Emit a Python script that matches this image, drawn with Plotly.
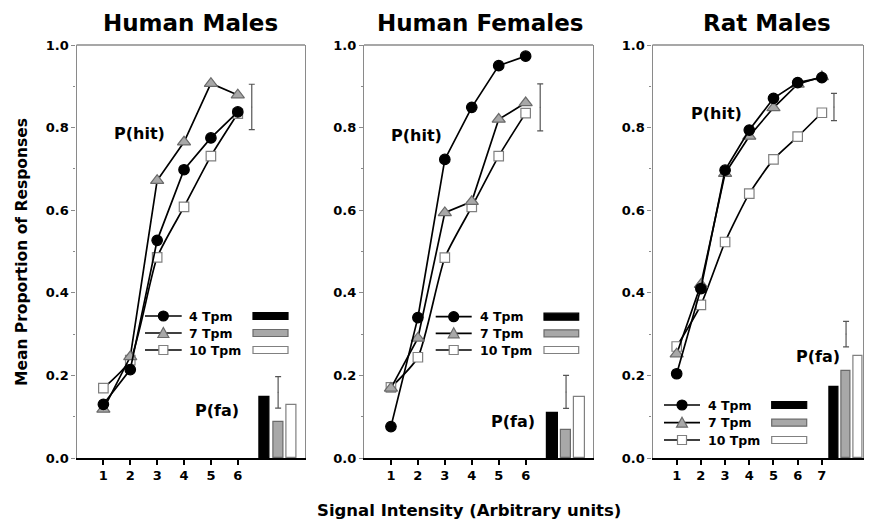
import plotly.graph_objects as go

# ---------------- data ----------------
panel_titles = ["Human Males", "Human Females", "Rat Males"]
series_names = ["4 Tpm", "7 Tpm", "10 Tpm"]

intensity_hm = [1, 2, 3, 4, 5, 6]
intensity_hf = [1, 2, 3, 4, 5, 6]
intensity_rm = [1, 2, 3, 4, 5, 6, 7]

hit_hm_4 = [0.130, 0.214, 0.527, 0.698, 0.775, 0.838]
hit_hm_7 = [0.118, 0.245, 0.672, 0.765, 0.907, 0.879]
hit_hm_10 = [0.169, 0.237, 0.486, 0.608, 0.731, 0.834]

hit_hf_4 = [0.076, 0.340, 0.723, 0.849, 0.950, 0.973]
hit_hf_7 = [0.169, 0.290, 0.594, 0.621, 0.820, 0.860]
hit_hf_10 = [0.171, 0.244, 0.485, 0.608, 0.731, 0.835]

hit_rm_4 = [0.204, 0.410, 0.697, 0.794, 0.871, 0.909, 0.921]
hit_rm_7 = [0.252, 0.420, 0.689, 0.779, 0.848, 0.905, 0.923]
hit_rm_10 = [0.270, 0.371, 0.523, 0.640, 0.723, 0.778, 0.836]

fa_hm = [0.148, 0.088, 0.129]
fa_hf = [0.108, 0.069, 0.147]
fa_rm = [0.171, 0.210, 0.248]

# representative error bars: (centre, half-width)
hit_err_hm = (0.850, 0.055)
hit_err_hf = (0.849, 0.057)
hit_err_rm = (0.850, 0.033)
fa_err_hm = (0.159, 0.038)
fa_err_hf = (0.160, 0.040)
fa_err_rm = (0.300, 0.031)

# ---------------- layout constants ----------------
W, H = 872, 523
TOP, BOT = 45, 458
panels = [
    dict(l=76.5, r=305, xr=8.5, bar0=7.0, hit_ex=6.52, fa_ex=7.5,
         x=intensity_hm, hits=[hit_hm_4, hit_hm_7, hit_hm_10], fa=fa_hm,
         he=hit_err_hm, fe=fa_err_hm,
         leg=dict(l0=145, l1=181.7, tx=187, b0=253, b1=288, rows=[316, 333, 350]),
         hitlab=(139.5, 133), falab=(216.7, 410), title_x=190.7),
    dict(l=364, r=593, xr=8.5, bar0=7.0, hit_ex=6.54, fa_ex=7.5,
         x=intensity_hf, hits=[hit_hf_4, hit_hf_7, hit_hf_10], fa=fa_hf,
         he=hit_err_hf, fe=fa_err_hf,
         leg=dict(l0=435.7, l1=471.7, tx=478, b0=544, b1=578.7, rows=[316.7, 333.3, 350]),
         hitlab=(416.7, 135), falab=(513, 421.7), title_x=480),
    dict(l=652.5, r=863, xr=8.7, bar0=7.5, hit_ex=7.5, fa_ex=8.0,
         x=intensity_rm, hits=[hit_rm_4, hit_rm_7, hit_rm_10], fa=fa_rm,
         he=hit_err_rm, fe=fa_err_rm,
         leg=dict(l0=664, l1=700, tx=705.5, b0=771.7, b1=806.7, rows=[405, 422.7, 440]),
         hitlab=(716.5, 114), falab=(818, 356), title_x=766.7),
]

FONT = "DejaVu Sans, Verdana, sans-serif"
styles = [
    dict(symbol="circle", size=10.5, color="#000000", lc="#000000", bar="#000000", barl="#000000",
         shape="linear"),
    dict(symbol="triangle-up", size=11.5, color="#a8a8a8", lc="#6a6a6a", bar="#a8a8a8", barl="#6a6a6a",
         shape="linear"),
    dict(symbol="square", size=9.5, color="#ffffff", lc="#808080", bar="#ffffff", barl="#808080",
         shape="spline"),
]


def px2x(p, px):
    return (px - p["l"]) / (p["r"] - p["l"]) * p["xr"]


def py2y(py):
    return (BOT - py) / (BOT - TOP)


fig = go.Figure()
shapes = []
annotations = []

for i, p in enumerate(panels):
    sfx = "" if i == 0 else str(i + 1)
    xa, ya = "x" + sfx, "y" + sfx
    # hit curves (draw 10, 7, 4 so filled circles on top)
    for k in [2, 1, 0]:
        st = styles[k]
        fig.add_trace(go.Scatter(
            x=p["x"], y=p["hits"][k], mode="lines+markers", name=series_names[k],
            line=dict(color="#000000", width=1.7, shape=st["shape"], smoothing=0.6),
            marker=dict(symbol=st["symbol"], size=st["size"], color=st["color"],
                        line=dict(color=st["lc"], width=1.2)),
            showlegend=False, xaxis=xa, yaxis=ya))
    # false-alarm bars
    bx = [p["bar0"] + 0.5 * j for j in range(3)]
    fig.add_trace(go.Bar(
        x=bx, y=p["fa"], width=0.38,
        marker=dict(color=[s["bar"] for s in styles],
                    line=dict(color=[s["barl"] for s in styles], width=1.2)),
        showlegend=False, xaxis=xa, yaxis=ya))
    # representative error bars
    fig.add_trace(go.Scatter(
        x=[p["hit_ex"], p["fa_ex"]], y=[p["he"][0], p["fe"][0]], mode="markers",
        marker=dict(size=1, color="#555555"),
        error_y=dict(type="data", array=[p["he"][1], p["fe"][1]], color="#555555",
                     thickness=1.2, width=3),
        showlegend=False, xaxis=xa, yaxis=ya))

    dom = [p["l"] / W, p["r"] / W]
    fig.layout["xaxis" + sfx] = dict(
        domain=dom, range=[0, p["xr"]], anchor=ya, tickvals=p["x"],
        showgrid=False, zeroline=False, showline=True, linecolor="#000000", linewidth=2,
        ticks="outside", ticklen=5, tickwidth=1.5, tickcolor="#000000",
        ticklabelstandoff=-1,
        tickfont=dict(family=FONT, size=13, color="#000000", weight="bold"))
    fig.layout["yaxis" + sfx] = dict(
        domain=[0, 1], range=[0, 1], anchor=xa, dtick=0.2, tickformat=".1f",
        showgrid=False, zeroline=False, showline=True, linecolor="#8a8a8a", linewidth=1.3,
        mirror=True, ticks="outside", ticklen=4, tickwidth=1, tickcolor="#8a8a8a",
        minor=dict(dtick=0.1, ticks="outside", ticklen=2, tickcolor="#8a8a8a"),
        tickfont=dict(family=FONT, size=13, color="#000000", weight="bold"))
    # top border
    shapes.append(dict(type="line", xref=xa + " domain", yref=ya + " domain",
                       x0=0, x1=1, y0=1, y1=1, line=dict(color="#8a8a8a", width=1.3)))

    # legend (drawn inside panel)
    lg = p["leg"]
    for k in range(3):
        st = styles[k]
        yy = py2y(lg["rows"][k])
        shapes.append(dict(type="line", xref=xa, yref=ya, x0=px2x(p, lg["l0"]), x1=px2x(p, lg["l1"]),
                           y0=yy, y1=yy, line=dict(color="#000000", width=1.7)))
        cx = px2x(p, (lg["l0"] + lg["l1"]) / 2)
        base = dict(xref=xa, yref=ya, xsizemode="pixel", ysizemode="pixel", xanchor=cx, yanchor=yy,
                    fillcolor=st["color"], line=dict(color=st["lc"], width=1.2))
        if k == 0:
            shapes.append(dict(base, type="circle", x0=-5, x1=5, y0=-5, y1=5))
        elif k == 1:
            shapes.append(dict(base, type="path", path="M-5.5,-4.5 L5.5,-4.5 L0,5.5 Z"))
        else:
            shapes.append(dict(base, type="rect", x0=-4.5, x1=4.5, y0=-4.5, y1=4.5))
        shapes.append(dict(type="rect", xref=xa, yref=ya, x0=px2x(p, lg["b0"]), x1=px2x(p, lg["b1"]),
                           y0=yy - 3.5 / 413, y1=yy + 3.5 / 413,
                           fillcolor=st["bar"], line=dict(color=st["barl"], width=1.2)))
        annotations.append(dict(xref="paper", yref="paper", x=lg["tx"] / W, y=yy,
                                text=series_names[k], showarrow=False, xanchor="left", yanchor="middle",
                                font=dict(family=FONT, size=12.5, color="#000000", weight="bold")))

    # labels
    annotations.append(dict(xref="paper", yref="paper", x=p["hitlab"][0] / W, y=py2y(p["hitlab"][1]),
                            text="P(hit)", showarrow=False, xanchor="center", yanchor="middle",
                            font=dict(family=FONT, size=16, color="#000000", weight="bold")))
    annotations.append(dict(xref="paper", yref="paper", x=p["falab"][0] / W, y=py2y(p["falab"][1]),
                            text="P(fa)", showarrow=False, xanchor="center", yanchor="middle",
                            font=dict(family=FONT, size=16, color="#000000", weight="bold")))
    annotations.append(dict(xref="paper", yref="paper", x=p["title_x"] / W, y=py2y(23),
                            text=panel_titles[i], showarrow=False, xanchor="center", yanchor="middle",
                            font=dict(family=FONT, size=23, color="#000000", weight="bold")))

annotations.append(dict(xref="paper", yref="paper", x=22 / W, y=py2y(252), textangle=-90,
                        text="Mean Proportion of Responses", showarrow=False,
                        xanchor="center", yanchor="middle",
                        font=dict(family=FONT, size=15.5, color="#000000", weight="bold")))
annotations.append(dict(xref="paper", yref="paper", x=469 / W, y=py2y(510),
                        text="Signal Intensity (Arbitrary units)", showarrow=False,
                        xanchor="center", yanchor="middle",
                        font=dict(family=FONT, size=16.5, color="#000000", weight="bold")))

fig.update_layout(
    width=W, height=H, margin=dict(l=0, r=0, t=TOP, b=H - BOT),
    paper_bgcolor="white", plot_bgcolor="white",
    shapes=shapes, annotations=annotations, showlegend=False, bargap=0,
)

fig.write_html("out.html", config={"displayModeBar": False},
               post_script="document.body.style.margin='0';document.body.style.overflow='hidden';")
